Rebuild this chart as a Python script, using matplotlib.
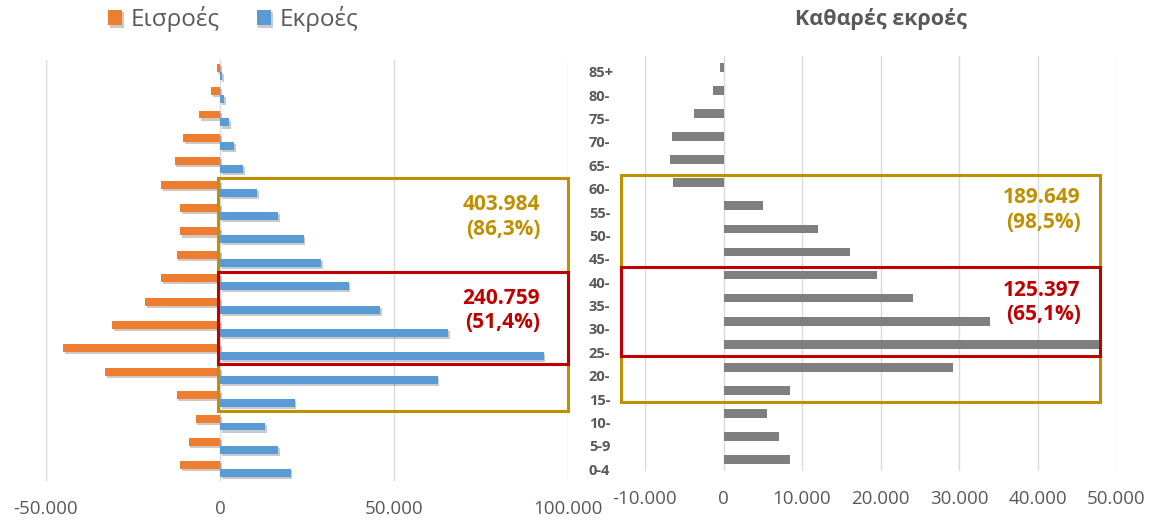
import matplotlib
matplotlib.use("Agg")
import matplotlib.pyplot as plt
import matplotlib.patheffects as pe
from matplotlib.patches import Rectangle
from matplotlib.ticker import FuncFormatter
import numpy as np

# Ηλικιακές ομάδες (από κάτω προς τα πάνω)
age_labels = ["0-4", "5-9", "10-", "15-", "20-", "25-", "30-", "35-", "40-",
              "45-", "50-", "55-", "60-", "65-", "70-", "75-", "80-", "85+"]

# Εισροές (αρνητικές τιμές στο γράφημα)
inflows = [-11500, -9000, -7000, -12500, -33000, -45000, -31000, -21500, -17000,
           -12500, -11500, -11500, -17000, -13000, -10500, -6000, -2500, -1000]

# Εκροές
outflows = [20300, 16800, 13000, 21500, 62500, 93000, 65500, 46000, 37000,
            29000, 24000, 16800, 10700, 6700, 4000, 2700, 1200, 700]

# Καθαρές εκροές
net_outflows = [8500, 7100, 5500, 8500, 29200, 48000, 33900, 24200, 19500,
                16100, 12000, 5000, -6400, -6800, -6600, -3700, -1400, -500]

# Σημειώσεις (πλαίσια)
left_notes = [("403.984\n(86,3%)", 3, 12, "#BF9000"), ("240.759\n(51,4%)", 5, 8, "#C00000")]
right_notes = [("189.649\n(98,5%)", 3, 12, "#BF9000"), ("125.397\n(65,1%)", 5, 8, "#C00000")]

C_IN = "#ED7D31"
C_OUT = "#5B9BD5"
C_NET = "#7F7F7F"
TXT = "#595959"
GRID = "#D9D9D9"

plt.rcParams['font.family'] = ['Open Sans', 'DejaVu Sans']

fig = plt.figure(figsize=(11.51, 5.2), dpi=100)
ax1 = fig.add_axes([46 / 1151, 39 / 520, 522 / 1151, 421 / 520])
ax2 = fig.add_axes([645 / 1151, 49 / 520, 471 / 1151, 415 / 520])

y = np.arange(len(age_labels))
fmt = FuncFormatter(lambda v, p: f"{v:,.0f}".replace(",", "."))
shadow = [pe.SimplePatchShadow(offset=(1.2, -1.5), alpha=0.25), pe.Normal()]

# --- Αριστερό γράφημα ---
b1 = ax1.barh(y + 0.17, inflows, height=0.34, color=C_IN, label="Εισροές", zorder=3)
b2 = ax1.barh(y - 0.17, outflows, height=0.34, color=C_OUT, label="Εκροές", zorder=3)
for bar in list(b1) + list(b2):
    bar.set_path_effects(shadow)
ax1.set_xlim(-50000, 100000)
ax1.set_ylim(-0.5, len(age_labels) - 0.5)
ax1.set_xticks([-50000, 0, 50000, 100000])
ax1.xaxis.set_major_formatter(fmt)
ax1.set_yticks(y)
ax1.set_yticklabels(age_labels, fontsize=10.5, fontweight="bold", color=TXT)
ax1.yaxis.tick_right()
ax1.tick_params(axis="y", length=0, pad=15)
ax1.tick_params(axis="x", length=0, pad=14, labelsize=13.5, labelcolor=TXT)
ax1.grid(axis="x", color=GRID, lw=1, zorder=0)

for txt, lo, hi, col in left_notes:
    ax1.add_patch(Rectangle((-500, lo - 0.5), 100500, hi - lo + 0.95, fill=False,
                            edgecolor=col, lw=2.2, zorder=5, clip_on=False))
    ax1.text(92000, hi - 0.25, txt, ha="right", va="top", color=col,
             fontsize=15, fontweight="bold", linespacing=1.2, zorder=6)

# --- Δεξί γράφημα ---
ax2.barh(y, net_outflows, height=0.38, color=C_NET, zorder=3)
ax2.set_xlim(-10000, 50000)
ax2.set_ylim(-0.5, len(age_labels) - 0.5)
ax2.set_xticks(np.arange(-10000, 50001, 10000))
ax2.xaxis.set_major_formatter(fmt)
ax2.set_yticks([])
ax2.tick_params(axis="x", length=0, pad=14, labelsize=13.5, labelcolor=TXT)
ax2.grid(axis="x", color=GRID, lw=1, zorder=0)
ax2.set_title("Καθαρές εκροές", fontsize=15.5, fontweight="bold", color=TXT, pad=22)

for txt, lo, hi, col in right_notes:
    ax2.add_patch(Rectangle((-13000, lo - 0.5), 61000, hi - lo + 0.85, fill=False,
                            edgecolor=col, lw=2.2, zorder=5, clip_on=False))
    ax2.text(45500, hi - 0.2, txt, ha="right", va="top", color=col,
             fontsize=15, fontweight="bold", linespacing=1.2, zorder=6)

for ax in (ax1, ax2):
    for s in ax.spines.values():
        s.set_visible(False)

fig.legend(handles=[b1, b2], loc="upper left", bbox_to_anchor=(86 / 1151, 1.03), ncol=2,
           frameon=False, fontsize=17.5, labelcolor=TXT, handlelength=0.6, handleheight=0.6,
           handletextpad=0.35, columnspacing=1.5)

fig.savefig("out.png", dpi=100)
